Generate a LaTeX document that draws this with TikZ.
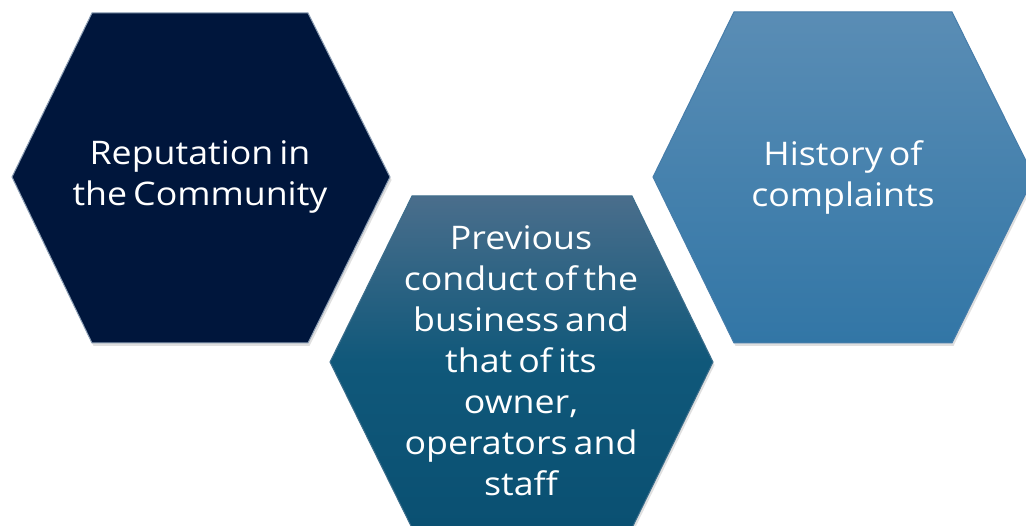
\documentclass[tikz,border=0pt]{standalone}
\usepackage{fontspec}
\setmainfont{Open Sans}[FakeStretch=1.1,WordSpace=0.65]
\usetikzlibrary{shadows}
\definecolor{navy}{RGB}{0,22,60}
\definecolor{navyedge}{RGB}{140,158,180}
\definecolor{midtop}{RGB}{74,110,140}
\definecolor{midmid}{RGB}{16,88,122}
\definecolor{midbot}{RGB}{10,80,114}
\definecolor{midedge}{RGB}{60,110,140}
\definecolor{rtop}{RGB}{90,141,181}
\definecolor{rbot}{RGB}{50,118,166}
\definecolor{redge}{RGB}{70,125,170}
\tikzset{
  hexshape/.style={line width=1pt, drop shadow={opacity=0.25, shadow xshift=1.5pt, shadow yshift=-3pt}},
  hextext/.style={text=white, align=center, font=\fontsize{32.5}{41}\selectfont, inner sep=0pt}
}
\begin{document}
\begin{tikzpicture}[x=1pt,y=-1pt]
\useasboundingbox (0,0) rectangle (1026,526);
\fill[white] (0,0) rectangle (1026,526);
\begin{scope}
\clip (0,0) rectangle (1026,526);
% left hexagon
\path[hexshape, fill=navy, draw=navyedge]
  (12,177) -- (92,13) -- (308,13) -- (390,177) -- (308,343) -- (92,343) -- cycle;
% right hexagon
\path[hexshape, top color=rtop, bottom color=rbot, draw=redge]
  (653,177) -- (734,12) -- (952,12) -- (1034,177) -- (952,343) -- (734,343) -- cycle;
% middle hexagon
\path[hexshape, top color=midtop, bottom color=midbot, middle color=midmid, draw=midedge]
  (330,362) -- (412,196) -- (632,196) -- (713,362) -- (632,528) -- (412,528) -- cycle;
\end{scope}
\node[hextext] (rep) at (200,177) {Reputation in\\the Community};
\node[hextext] (hist) at (843,177) {History of\\complaints};
\node[hextext] (prev) at (521,361) {Previous\\conduct of the\\business and\\that of its\\owner,\\operators and\\staff};
\end{tikzpicture}
\end{document}
